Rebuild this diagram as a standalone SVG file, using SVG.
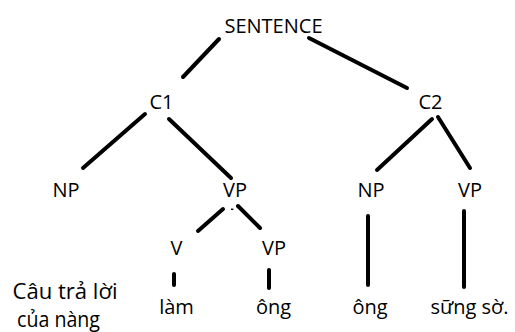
<svg xmlns="http://www.w3.org/2000/svg" width="515" height="332" viewBox="0 0 515 332">
<style>
text { font-family: "Open Sans", "Noto Sans", "DejaVu Sans", sans-serif; font-size: 20px; fill: #000; text-anchor: middle; }
.cap { font-size: 21.5px; }
.edge { stroke: #000; stroke-width: 4; stroke-linecap: round; fill: none; }
.tick { stroke: #000; stroke-width: 1.4; fill: none; }
</style>
<rect width="515" height="332" fill="#fff"/>
<g id="connectors">
<line class="edge" x1="219" y1="39" x2="183" y2="77"/>
<line class="edge" x1="309" y1="38" x2="407" y2="88"/>
<line class="edge" x1="145" y1="114" x2="83" y2="168"/>
<line class="edge" x1="169" y1="119" x2="231" y2="178"/>
<line class="edge" x1="432" y1="119" x2="377" y2="170"/>
<line class="edge" x1="438" y1="117" x2="470" y2="168"/>
<line class="edge" x1="223" y1="209" x2="198" y2="231"/>
<line class="edge" x1="238" y1="206" x2="260" y2="228"/>
<line class="edge" x1="174" y1="274" x2="174" y2="285"/>
<line class="edge" x1="269" y1="270" x2="269" y2="288"/>
<line class="edge" x1="368" y1="216" x2="368" y2="285"/>
<line class="edge" x1="464" y1="211" x2="464" y2="287"/>
<line class="tick" x1="231" y1="209.3" x2="233.4" y2="209.3"/>
</g>
<g id="sentence"><text x="273.5" y="33">SENTENCE</text></g>
<g id="c1"><text x="161.5" y="108.5">C1</text></g>
<g id="c2"><text x="430.5" y="109">C2</text></g>
<g id="np1"><text x="66" y="197">NP</text></g>
<g id="vp1"><text x="235" y="197">VP</text></g>
<g id="np2"><text x="371" y="197">NP</text></g>
<g id="vp3"><text x="470" y="197">VP</text></g>
<g id="v"><text x="176.5" y="255">V</text></g>
<g id="vp2"><text x="274" y="255">VP</text></g>
<g id="lam"><text x="176.5" y="314">làm</text></g>
<g id="ong1"><text x="273.5" y="314">ông</text></g>
<g id="ong2"><text x="370" y="314">ông</text></g>
<g id="sungso"><text x="469.5" y="314">sững sờ.</text></g>
<g id="caption">
<text class="cap" x="65" y="299" textLength="105" lengthAdjust="spacingAndGlyphs">Câu trả lời</text>
<text class="cap" x="58.5" y="327" textLength="83" lengthAdjust="spacingAndGlyphs">của nàng</text>
</g>
</svg>
